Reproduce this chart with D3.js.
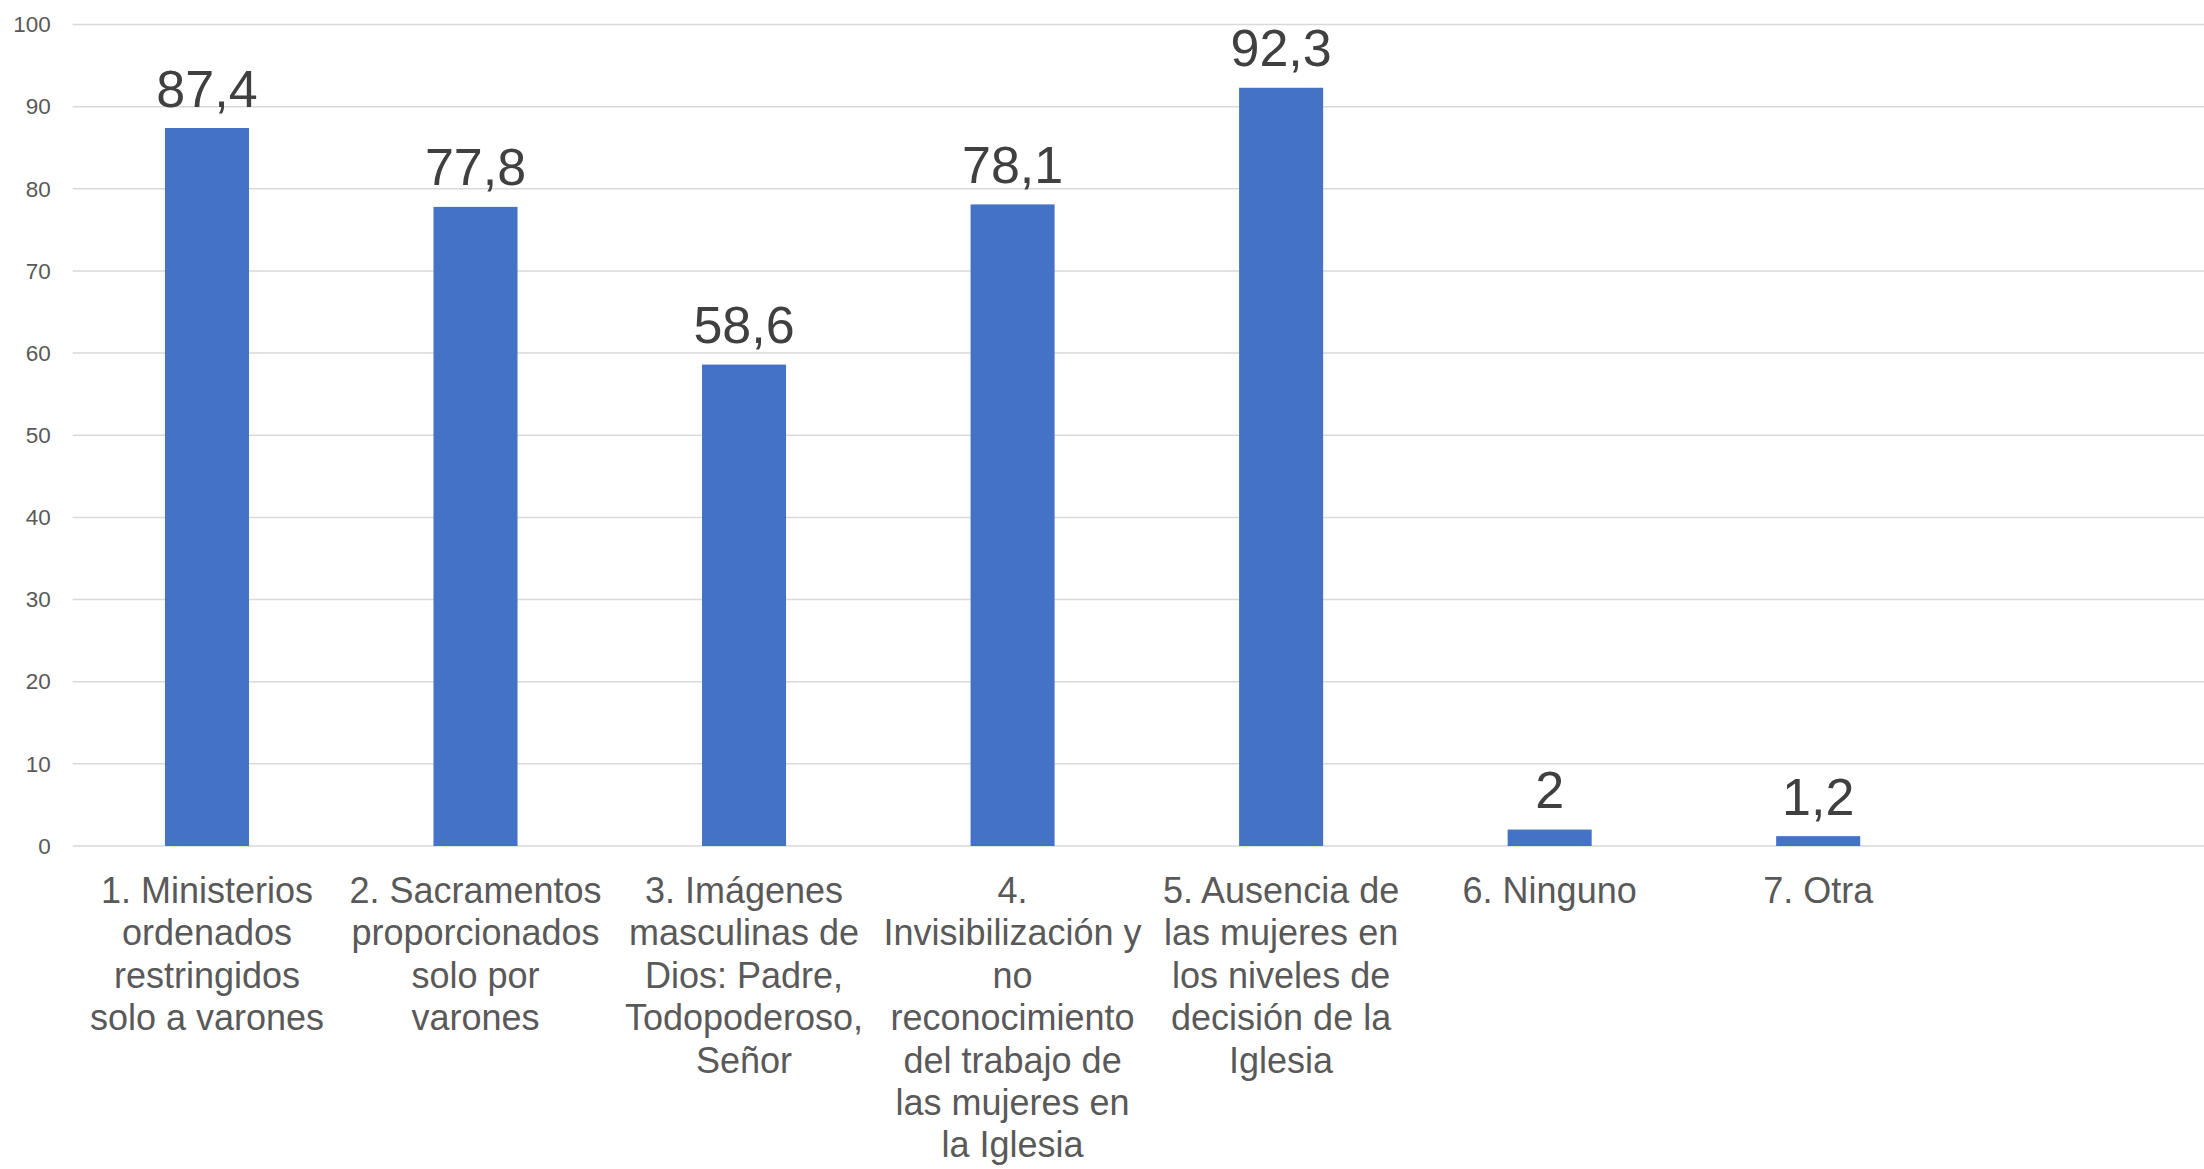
<!DOCTYPE html>
<html>
<head>
<meta charset="utf-8">
<script src="https://cdn.jsdelivr.net/npm/d3@7"></script>
<style>
  html, body { margin: 0; padding: 0; background: #fff; }
  svg { display: block; }
</style>
</head>
<body>
<svg id="chart" width="2204" height="1169"></svg>
<script>
// ---- data ----
const categories = [
  "1. Ministerios\nordenados\nrestringidos\nsolo a varones",
  "2. Sacramentos\nproporcionados\nsolo por\nvarones",
  "3. Imágenes\nmasculinas de\nDios: Padre,\nTodopoderoso,\nSeñor",
  "4.\nInvisibilización y\nno\nreconocimiento\ndel trabajo de\nlas mujeres en\nla Iglesia",
  "5. Ausencia de\nlas mujeres en\nlos niveles de\ndecisión de la\nIglesia",
  "6. Ninguno",
  "7. Otra"
];
const values = [87.4, 77.8, 58.6, 78.1, 92.3, 2, 1.2];
const valueLabels = ["87,4", "77,8", "58,6", "78,1", "92,3", "2", "1,2"];
const yTicks = [0, 10, 20, 30, 40, 50, 60, 70, 80, 90, 100];
const slotCount = 8; // the plot area reserves one empty slot on the right

// ---- layout ----
const W = 2204, H = 1169;
const plotLeft = 72.7, plotRight = 2221, plotTop = 24.5, plotBottom = 846;

const svg = d3.select("#chart");

const x = d3.scaleBand()
  .domain(d3.range(slotCount))
  .range([plotLeft, plotRight])
  .paddingInner(0.687)
  .paddingOuter(0.3435);

const y = d3.scaleLinear().domain([0, 100]).range([plotBottom, plotTop]);

// gridlines
svg.append("g")
  .selectAll("line")
  .data(yTicks)
  .join("line")
  .attr("x1", plotLeft)
  .attr("x2", W)
  .attr("y1", d => y(d))
  .attr("y2", d => y(d))
  .attr("stroke", "#d9d9d9")
  .attr("stroke-width", 1.5);

// y axis labels
const yAxis = d3.axisLeft(y).tickValues(yTicks).tickSize(0).tickPadding(0);
const gy = svg.append("g").attr("transform", `translate(${plotLeft - 22},0)`).call(yAxis);
gy.select(".domain").remove();
gy.selectAll("text")
  .attr("font-family", "Liberation Sans, Arial, sans-serif")
  .attr("font-size", 22.5)
  .attr("fill", "#595959")
  .attr("dy", "0.32em");

// bars
svg.append("g")
  .selectAll("rect")
  .data(values)
  .join("rect")
  .attr("x", (d, i) => x(i))
  .attr("width", x.bandwidth())
  .attr("y", d => y(d))
  .attr("height", d => y(0) - y(d))
  .attr("fill", "#4472c4");

// value labels
svg.append("g")
  .selectAll("text")
  .data(values)
  .join("text")
  .attr("x", (d, i) => x(i) + x.bandwidth() / 2)
  .attr("y", d => y(d) - 21.5)
  .attr("text-anchor", "middle")
  .attr("font-family", "Liberation Sans, Arial, sans-serif")
  .attr("font-size", 52)
  .attr("fill", "#404040")
  .text((d, i) => valueLabels[i]);

// category labels
const lineH = 42.4;
const firstBaseline = 903;
const catG = svg.append("g")
  .attr("font-family", "Liberation Sans, Arial, sans-serif")
  .attr("font-size", 36)
  .attr("fill", "#595959")
  .attr("text-anchor", "middle");
categories.forEach((c, i) => {
  const t = catG.append("text")
    .attr("x", x(i) + x.bandwidth() / 2)
    .attr("y", firstBaseline);
  c.split("\n").forEach((ln, j) => {
    t.append("tspan")
      .attr("x", x(i) + x.bandwidth() / 2)
      .attr("y", firstBaseline + j * lineH)
      .text(ln);
  });
});
</script>
</body>
</html>
